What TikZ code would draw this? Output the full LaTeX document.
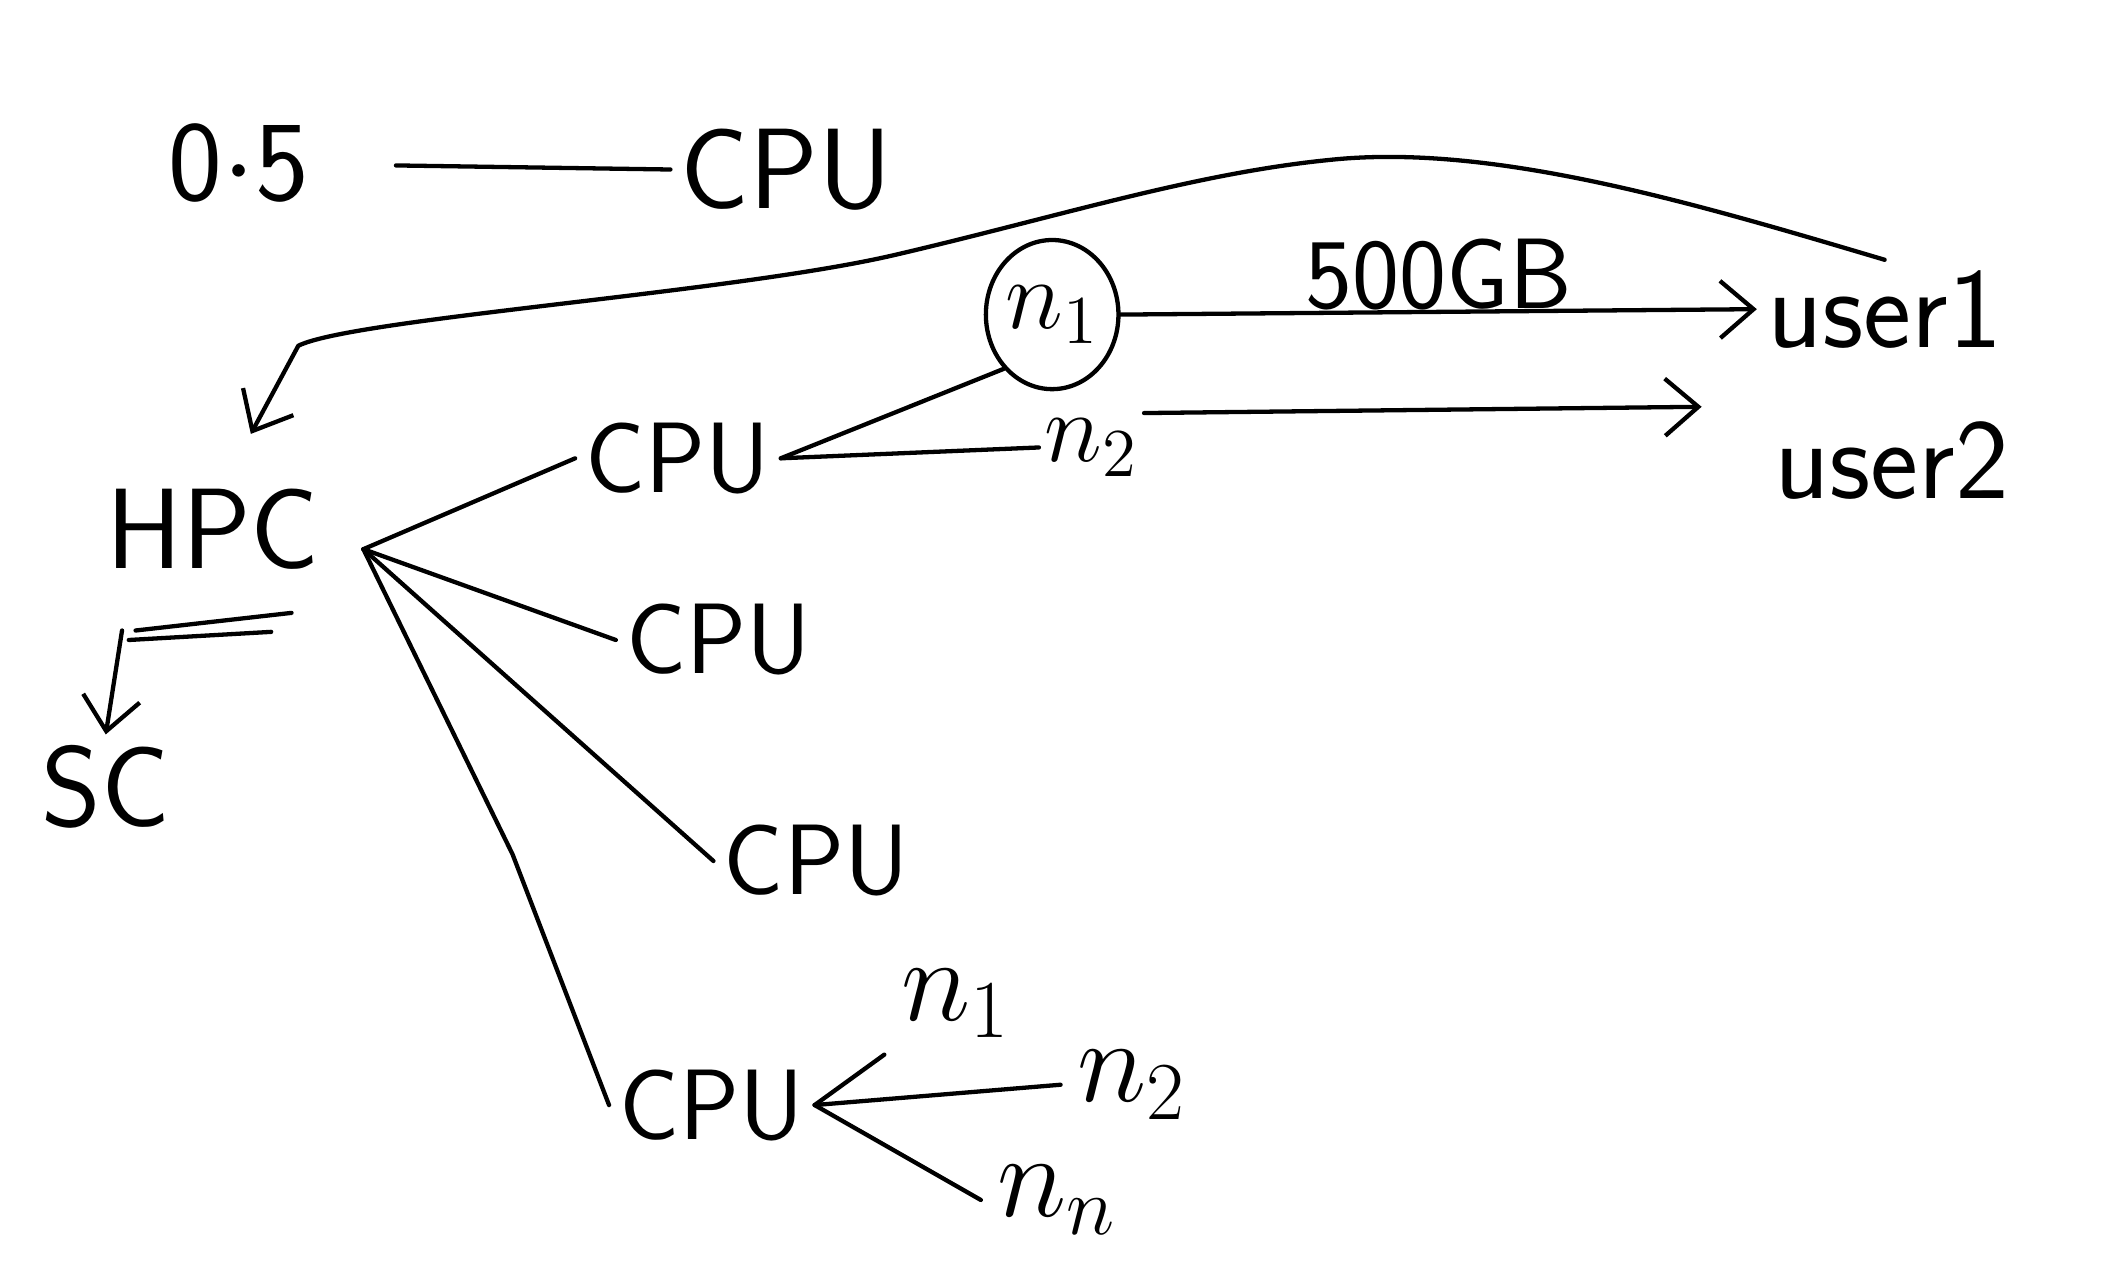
\documentclass[tikz,border=0pt]{standalone}
\usepackage{amsmath}
\usepackage{amssymb}
\usetikzlibrary{arrows.meta,shapes.geometric}

\tikzset{
  word/.style={font=\sffamily\fontsize{21}{23}\selectfont, inner sep=2pt},
  bigword/.style={font=\sffamily\fontsize{24}{26}\selectfont, inner sep=2pt},
  pen/.style={line width=0.9pt, line cap=round, line join=round},
  hook/.style={pen, -{Straight Barb[length=7pt,width=12pt]}}
}

\begin{document}
\begin{tikzpicture}
		\useasboundingbox (0,0) rectangle (15.68,-9.40);

		% Top line
		\node[bigword] (half) at (1.76,-1.20) {0$\cdot$5};
		\node[bigword] (cputop) at (5.80,-1.25) {CPU};
		\draw[pen] (2.92,-1.22) -- (cputop.west);

		% HPC and its children
		\node[bigword] (hpc) at (1.57,-3.90) {HPC};
		\node[bigword] (sc) at (0.78,-5.80) {SC};
		\coordinate (hub) at (2.68,-4.05);
		\node[word] (cpua) at (5.00,-3.38) {CPU};
		\node[word] (cpub) at (5.30,-4.72) {CPU};
		\node[word] (cpuc) at (6.02,-6.35) {CPU};
		\node[word] (cpud) at (5.25,-8.15) {CPU};

		% Underline and arrow to SC
		\draw[pen] (1.00,-4.65) -- (2.15,-4.52);
		\draw[pen] (0.95,-4.72) -- (2.00,-4.66);
		\draw[hook] (0.90,-4.65) -- (sc.north);

		% Branches from HPC
		\draw[pen] (hub) -- (cpua.west);
		\draw[pen] (hub) -- (cpub.west);
		\draw[pen] (hub) -- (cpuc.west);
		\draw[pen] (hub) -- (3.78,-6.30) -- (cpud.west);

		% Nodes of the first CPU
		\node[pen, draw, ellipse, minimum width=0.85cm, minimum height=1.1cm, inner sep=0pt,
			font=\fontsize{22}{24}\selectfont] (n1) at (7.76,-2.32) {$n_1$};
		\node[font=\fontsize{22}{24}\selectfont, inner sep=1pt] (n2) at (8.05,-3.30) {$n_2$};
		\draw[pen] (cpua.east) -- (n1.south west);
		\draw[pen] (cpua.east) -- (n2.west);

		% Users
		\node[bigword] (user1) at (13.90,-2.28) {user1};
		\node[bigword] (user2) at (13.95,-3.40) {user2};
		\draw[hook] (n1.east) -- node[word, above=-2pt] (size) {500GB} (user1.west);
		\draw[hook] (n2.north east) -- (12.55,-3.00);

		% Curve back to HPC
		\draw[hook] (user1.north) .. controls (12.5,-1.5) and (11.0,-1.05) .. (9.80,-1.18)
			.. controls (8.8,-1.28) and (7.8,-1.6) .. (6.6,-1.88)
			.. controls (5.4,-2.16) and (2.6,-2.35) .. (2.20,-2.55)
			-- (1.85,-3.20);

		% Nodes of the last CPU
		\node[font=\fontsize{24}{26}\selectfont] (n1b) at (7.05,-7.40) {$n_1$};
		\node[font=\fontsize{24}{26}\selectfont] (n2b) at (8.35,-8.00) {$n_2$};
		\node[font=\fontsize{24}{26}\selectfont] (nnb) at (7.80,-8.85) {$n_n$};
		\draw[pen] (cpud.east) -- (n1b.south west);
		\draw[pen] (cpud.east) -- (n2b.west);
		\draw[pen] (cpud.east) -- (nnb.west);
	\end{tikzpicture}
\end{document}
